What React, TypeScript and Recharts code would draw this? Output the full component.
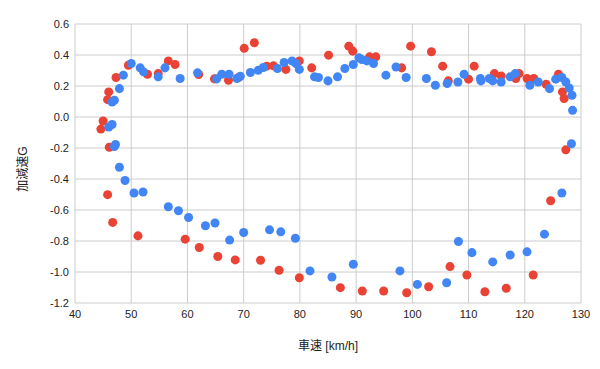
import { ScatterChart, Scatter, XAxis, YAxis, CartesianGrid } from 'recharts'

// red series: speed [km/h] / acceleration [G]
const redSpeed = [
  44.6, 45.0, 45.8, 46.0, 47.3, 49.5, 52.9, 54.8, 56.6, 57.8, 62.0, 64.8, 67.3, 69.1, 70.1, 71.9,
  74.1, 75.3, 77.5, 79.9, 82.1, 85.1, 88.7, 89.4, 92.4, 93.5, 98.1, 99.7, 103.4, 105.4, 106.4,
  110.0, 111.0, 114.6, 115.8, 118.4, 119.0, 120.4, 121.6, 123.8, 126.0, 126.7, 127.0,
  127.3, 124.6, 121.5, 116.7, 112.9, 109.7, 106.7, 102.9, 99.0, 94.9, 91.1, 87.2, 79.9, 76.3,
  73.0, 68.5, 65.4, 62.1, 59.6, 51.2, 46.7, 45.8, 46.1,
]
const redAccel = [
  -0.078, -0.026, 0.112, 0.162, 0.255, 0.334, 0.276, 0.28, 0.362, 0.339, 0.274, 0.246, 0.237, 0.255, 0.443, 0.479,
  0.328, 0.33, 0.307, 0.362, 0.317, 0.399, 0.457, 0.425, 0.388, 0.388, 0.317, 0.457, 0.421, 0.328, 0.233,
  0.244, 0.328, 0.28, 0.265, 0.248, 0.28, 0.248, 0.248, 0.211, 0.276, 0.162, 0.119,
  -0.212, -0.54, -1.019, -1.105, -1.127, -1.019, -0.965, -1.095, -1.134, -1.123, -1.123, -1.101, -1.037, -0.989,
  -0.924, -0.922, -0.9, -0.842, -0.788, -0.767, -0.68, -0.501, -0.195,
]

// blue series
const blueSpeed = [
  46.0, 46.6, 46.6, 47.0, 47.9, 48.6, 50.0, 51.6, 52.2, 54.8, 56.0, 58.7, 61.8, 65.2, 66.1, 67.4,
  68.8, 69.4, 71.2, 72.6, 73.5, 76.0, 77.2, 78.6, 79.3, 79.9, 82.6, 83.3, 85.0, 86.7, 88.0, 89.5,
  90.5, 91.0, 91.9, 93.1, 95.3, 97.1, 98.9, 102.5, 104.1, 106.2, 108.1, 109.2, 112.1, 112.2,
  113.7, 114.3, 115.8, 117.4, 118.3, 120.9, 122.4, 124.4, 125.5, 126.6, 127.3, 127.9, 128.4, 128.5,
  128.3, 126.6, 123.5, 120.4, 117.4, 114.3, 110.6, 108.2, 106.1, 100.9, 97.8, 89.5, 85.7, 81.8,
  79.2, 76.6, 74.6, 70.0, 67.5, 64.9, 63.2, 60.2, 58.4, 56.6, 52.1, 50.5, 48.9, 47.9, 47.2, 47.0,
]
const blueAccel = [
  -0.065, -0.048, 0.097, 0.108, 0.183, 0.27, 0.345, 0.317, 0.291, 0.259, 0.317, 0.248, 0.285, 0.246, 0.276, 0.276,
  0.248, 0.263, 0.287, 0.302, 0.319, 0.313, 0.352, 0.362, 0.345, 0.307, 0.259, 0.255, 0.233, 0.259, 0.313, 0.339,
  0.382, 0.371, 0.362, 0.345, 0.27, 0.323, 0.255, 0.248, 0.205, 0.216, 0.226, 0.276, 0.248, 0.233,
  0.248, 0.233, 0.226, 0.259, 0.28, 0.205, 0.226, 0.183, 0.244, 0.255, 0.226, 0.187, 0.14, 0.043,
  -0.173, -0.49, -0.756, -0.87, -0.89, -0.935, -0.875, -0.803, -1.069, -1.08, -0.993, -0.95, -1.032, -0.993,
  -0.782, -0.741, -0.728, -0.745, -0.794, -0.684, -0.702, -0.648, -0.605, -0.579, -0.484, -0.49, -0.41, -0.324, -0.177, -0.19,
]

const xTicks = [40, 50, 60, 70, 80, 90, 100, 110, 120, 130]
const yTicks = [-1.2, -1.0, -0.8, -0.6, -0.4, -0.2, 0, 0.2, 0.4, 0.6]

const redData = redSpeed.map((x, i) => ({ x, y: redAccel[i] }))
const blueData = blueSpeed.map((x, i) => ({ x, y: blueAccel[i] }))

const font = "Arial, 'Liberation Sans', 'Noto Sans CJK JP', sans-serif"

export default function App() {
  return (
    <div style={{ position: 'absolute', left: 0, top: 0, background: '#fff' }}>
      <ScatterChart width={600} height={369} margin={{ top: 24, right: 19, bottom: 0, left: 0 }}>
        <CartesianGrid stroke="#cccccc" />
        <XAxis
          type="number"
          dataKey="x"
          domain={[40, 130]}
          ticks={xTicks}
          height={66}
          axisLine={false}
          tickLine={false}
          tickSize={0}
          tickMargin={7}
          tick={{ fill: '#222', fontSize: 11, fontFamily: font }}
          label={{
            content: () => (
              <text x={328} y={346} textAnchor="middle" dominantBaseline="central"
                fill="#222" fontSize={12} fontFamily={font}>
                車速 [km/h]
              </text>
            ),
          }}
        />
        <YAxis
          type="number"
          dataKey="y"
          domain={[-1.2, 0.6]}
          ticks={yTicks}
          width={75}
          axisLine={false}
          tickLine={false}
          tickSize={0}
          tickMargin={6}
          tickFormatter={(v: number) => v.toFixed(1)}
          tick={{ fill: '#222', fontSize: 11, fontFamily: font }}
          label={{
            content: () => (
              <text x={23} y={169} transform="rotate(-90 23 169)" textAnchor="middle"
                dominantBaseline="central" fill="#222" fontSize={12} fontFamily={font}>
                加減速G
              </text>
            ),
          }}
        />
        <Scatter data={redData} fill="#ea4335" isAnimationActive={false} />
        <Scatter data={blueData} fill="#4285f4" isAnimationActive={false} />
      </ScatterChart>
    </div>
  )
}
